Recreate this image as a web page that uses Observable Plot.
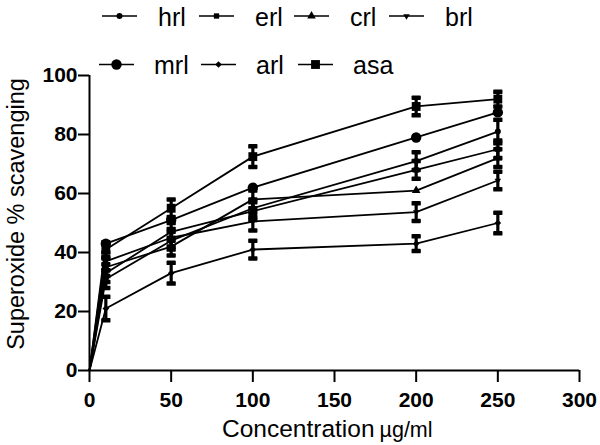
<!DOCTYPE html>
<html><head><meta charset="utf-8">
<script src="https://cdn.jsdelivr.net/npm/d3@7"></script>
<script src="https://cdn.jsdelivr.net/npm/@observablehq/plot@0.6"></script>
<style>
body{margin:0;background:#fff;font-family:"Liberation Sans",Arial,sans-serif;}
#wrap{position:relative;width:600px;height:445px;}
#legendBox{position:relative;width:600px;height:50px;}
#legendBox svg{position:absolute;left:0;top:0;overflow:visible;z-index:2;pointer-events:none;}
#chart svg{display:block;}
</style></head><body>
<div id="wrap">
<div id="legendBox"></div>
<div id="chart"></div>
</div>
<script>
// ---- data ----
const concentration = [0, 10, 50, 100, 200, 250];
const seriesNames = ["hrl", "erl", "crl", "brl", "mrl", "arl", "asa"];
const hrl = [0, 31, 44, 55, 71, 81];
const erl = [0, 33, 47, 54, 68, 75];
const crl = [0, 35, 42, 58, 61, 72];
const brl = [0, 37, 45, 50.5, 53.7, 64.4];
const mrl = [0, 43, 51, 62, 79, 87.5];
const arl = [0, 21, 33, 41, 43, 50];
const asa = [0, 41, 55, 72.5, 89.5, 92];
const hrlErr = [0, 3, 3, 3, 3, 4];
const erlErr = [0, 3, 3, 3, 3, 3];
const crlErr = [0, 3, 3, 3, 0, 3];
const brlErr = [0, 3, 3, 3, 3, 3];
const mrlErr = [0, 0, 0, 0, 0, 0];
const arlErr = [0, 4, 3.5, 3, 2.5, 3.5];
const asaErr = [0, 2.5, 3, 3.5, 3, 2.5];
const xTicks = [0, 50, 100, 150, 200, 250, 300];
const yTicks = [0, 20, 40, 60, 80, 100];
const xLabel = "Concentration";
const xUnit = "\u00b5g/ml";
const yLabel = "Superoxide % scavenging";

const values = {hrl, erl, crl, brl, mrl, arl, asa};
const errs = {hrl: hrlErr, erl: erlErr, crl: crlErr, brl: brlErr, mrl: mrlErr, arl: arlErr, asa: asaErr};

const rows = [];
for (const s of seriesNames) {
  concentration.forEach((c, i) => rows.push({series: s, x: c, y: values[s][i], err: errs[s][i]}));
}
const errRows = rows.filter(d => d.err > 0);

// ---- symbols ----
const invTri = {draw(ctx, size){const r = Math.sqrt(size/Math.PI)*1.25; ctx.moveTo(0, r); ctx.lineTo(r*0.866, -r*0.5); ctx.lineTo(-r*0.866, -r*0.5); ctx.closePath();}};
const cap = {draw(ctx){ctx.rect(-3.8, -1.4, 7.6, 2.8);}};
const markerSymbol = {hrl: "circle", erl: "square", crl: "triangle", brl: invTri, mrl: "circle", arl: "diamond2", asa: "square"};
const markerR = {hrl: 3, erl: 3, crl: 3.2, brl: 3, mrl: 5.2, arl: 3, asa: 5};

const font = "Liberation Sans, Arial, sans-serif";
const H = 395;

const chart = Plot.plot({
  width: 600, height: H,
  marginTop: 25, marginBottom: 75, marginLeft: 89, marginRight: 21,
  style: {fontFamily: font, background: "transparent", overflow: "visible", color: "black"},
  x: {domain: [0, 300]},
  y: {domain: [0, 100]},
  marks: [
    Plot.line(rows, {x: "x", y: "y", z: "series", stroke: "black", strokeWidth: 1.8}),
    Plot.ruleX(errRows, {x: "x", y1: d => d.y - d.err, y2: d => d.y + d.err, stroke: "black", strokeWidth: 3.2}),
    Plot.dot(errRows, {x: "x", y: d => d.y - d.err, symbol: cap, fill: "black", stroke: "black", strokeWidth: 1.7, strokeLinejoin: "round"}),
    Plot.dot(errRows, {x: "x", y: d => d.y + d.err, symbol: cap, fill: "black", stroke: "black", strokeWidth: 1.7, strokeLinejoin: "round"}),
    ...seriesNames.map(s => Plot.dot(rows.filter(d => d.series === s && d.x > 0), {x: "x", y: "y", symbol: markerSymbol[s], r: markerR[s], fill: "black", stroke: "none"})),
    Plot.ruleY([0], {stroke: "black", strokeWidth: 2}),
    Plot.ruleX([0], {stroke: "black", strokeWidth: 2}),
    Plot.axisX({ticks: xTicks, tickSize: 12, tickPadding: 10, fontSize: 21, fontWeight: "bold", label: null, stroke: "black", strokeWidth: 2}),
    Plot.axisY({ticks: yTicks, tickSize: 11, tickPadding: 1, fontSize: 21, fontWeight: "bold", label: null, stroke: "black", strokeWidth: 2})
  ]
});
document.getElementById("chart").appendChild(chart);

// axis titles
const svg = d3.select(chart);
svg.append("text")
  .attr("transform", "translate(24," + (214 - 50) + ") rotate(-90)")
  .attr("text-anchor", "middle")
  .attr("font-family", font)
  .attr("font-size", 23.5)
  .attr("fill", "black")
  .text(yLabel);
const xt = svg.append("text")
  .attr("x", 222).attr("y", 437 - 50)
  .attr("text-anchor", "start")
  .attr("font-family", font)
  .attr("fill", "black");
xt.append("tspan").attr("font-size", 24.5).text(xLabel);
xt.append("tspan").attr("font-size", 21.5).attr("dx", 5).text(xUnit);

// legend
const legendLayout = [
  {name: "hrl", x: 102, tx: 158, row: 0},
  {name: "erl", x: 199, tx: 255, row: 0},
  {name: "crl", x: 294, tx: 350, row: 0},
  {name: "brl", x: 389, tx: 445, row: 0},
  {name: "mrl", x: 99, tx: 154, row: 1},
  {name: "arl", x: 201, tx: 256, row: 1},
  {name: "asa", x: 298, tx: 353, row: 1}
];
const rowLineY = [16, 64.5];
const rowTextY = [26, 74];
const d3Sym = {circle: d3.symbolCircle, square: d3.symbolSquare, triangle: d3.symbolTriangle, diamond2: d3.symbolDiamond2};
const lg = d3.select("#legendBox").append("svg").attr("width", 600).attr("height", 80);
for (const it of legendLayout) {
  const y = rowLineY[it.row];
  lg.append("line").attr("x1", it.x).attr("x2", it.x + 35).attr("y1", y).attr("y2", y).attr("stroke", "black").attr("stroke-width", 1.6);
  const symName = markerSymbol[it.name];
  const type = typeof symName === "string" ? d3Sym[symName] : symName;
  const r = markerR[it.name];
  lg.append("path").attr("d", d3.symbol().type(type).size(Math.PI * r * r)()).attr("transform", `translate(${it.x + 17.5},${y})`).attr("fill", "black");
  lg.append("text").attr("x", it.tx).attr("y", rowTextY[it.row]).attr("font-family", font).attr("font-size", 25).attr("fill", "black").text(it.name);
}
</script>
</body></html>
